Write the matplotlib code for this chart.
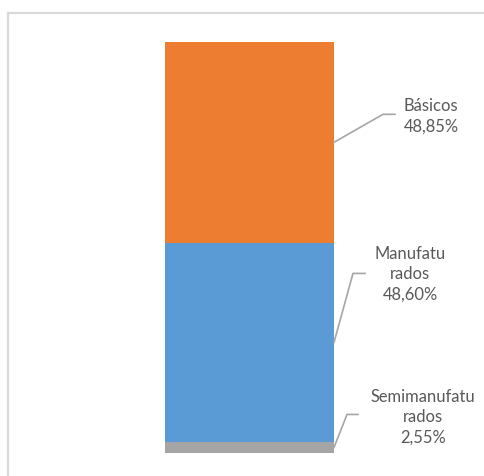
import matplotlib
matplotlib.use("Agg")
import matplotlib.pyplot as plt
from matplotlib.lines import Line2D
from matplotlib.transforms import IdentityTransform

# share of exports by product class (%)
categories = ["Semimanufatu\nrados", "Manufatu\nrados", "Básicos"]
shares = [2.55, 48.60, 48.85]
colors = ["#A5A5A5", "#5B9BD5", "#ED7D31"]

# leader-line geometry per label: (elbow dx, elbow dy, tail dx, text dx, text dy) in px
label_layout = [
    (13, 33, 24, 89, 30),
    (19, 69, 31, 76, 68),
    (49, 28, 61, 97, 26),
]

W, H, DPI = 484, 476, 100
fig = plt.figure(figsize=(W / DPI, H / DPI), dpi=DPI)
plt.rcParams["font.family"] = ["Lato", "DejaVu Sans"]

# chart-area frame (runs off the right and bottom edges)
fig.add_artist(Line2D([8 / W, 8 / W], [0, 1 - 13 / H], color="#D9D9D9", lw=1.6))
fig.add_artist(Line2D([8 / W, 1], [1 - 13 / H, 1 - 13 / H], color="#D9D9D9", lw=1.6))

bar_top, bar_bot = 42, 452.7
ax = fig.add_axes([165 / W, (H - bar_bot) / H, 169 / W, (bar_bot - bar_top) / H])
bottom = 0
mids = []
for val, c in zip(shares, colors):
    ax.bar(0, val, bottom=bottom, width=1, color=c, linewidth=0)
    mids.append(bottom + val / 2)
    bottom += val
ax.set_xlim(-0.5, 0.5)
ax.set_ylim(0, sum(shares))
ax.axis("off")

fig.canvas.draw()
for cat, val, mid, (ex, ey, tx, lx, ly) in zip(categories, shares, mids, label_layout):
    x0, y0 = ax.transData.transform((0.5, mid))
    fig.add_artist(Line2D([x0, x0 + ex, x0 + tx], [y0, y0 + ey, y0 + ey],
                          color="#A6A6A6", lw=1.2, transform=IdentityTransform()))
    txt = f"{cat}\n{val:.2f}%".replace(".", ",")
    fig.text(x0 + lx, y0 + ly, txt, transform=IdentityTransform(),
             ha="center", va="center", fontsize=11.9, color="#595959",
             linespacing=1.35)

fig.savefig("out.png", dpi=DPI)
